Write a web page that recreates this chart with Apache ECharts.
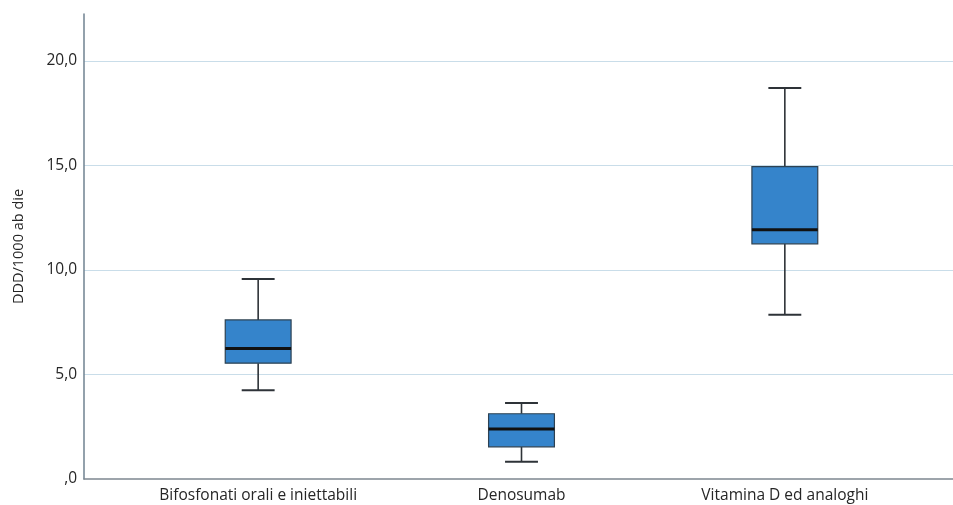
<!DOCTYPE html>
<html>
<head>
<meta charset="utf-8">
<script src="https://cdn.jsdelivr.net/npm/echarts@6/dist/echarts.min.js"></script>
<style>
	html, body { margin: 0; padding: 0; background: #ffffff; }
	#boxchart { width: 953px; height: 505px; }
</style>
</head>
<body>
<div id="boxchart"></div>
<script>
// categorie e valori (min, Q1, mediana, Q3, max)
var categories = ['Bifosfonati orali e iniettabili', 'Denosumab', 'Vitamina D ed analoghi'];
var whiskerLow = [4.25, 0.83, 7.85];
var quartile1 = [5.54, 1.54, 11.25];
var medians = [6.24, 2.39, 11.92];
var quartile3 = [7.61, 3.12, 14.94];
var whiskerHigh = [9.56, 3.63, 18.70];
var yTicks = [0, 5, 10, 15, 20];
var yTickLabels = [',0', '5,0', '10,0', '15,0', '20,0'];

var boxchart = {

	build: function() { // grafico a scatola

		var myChart = echarts.init(document.getElementById('boxchart'));

		var rows = categories.map(function(c, i) {
			return [i, whiskerLow[i], quartile1[i], medians[i], quartile3[i], whiskerHigh[i]];
		});

		var font = 'Open Sans';
		var textColor = '#262626';
		var yMax = 22.24;

		var option = {
			animation: false,
			backgroundColor: '#ffffff',
			grid: [
				{ left: 84, right: 0, top: 14, bottom: 26 },      // assi e griglia
				{ left: 126.5, right: 36.5, top: 14, bottom: 26 } // scatole
			],
			xAxis: [{
				gridIndex: 0,
				type: 'category',
				data: [''],
				axisLine: { lineStyle: { color: '#7d8790', width: 1.5 } },
				axisTick: { show: false },
				axisLabel: { show: false }
			}, {
				gridIndex: 1,
				type: 'category',
				data: categories,
				axisLine: { show: false },
				axisTick: { show: false },
				axisLabel: {
					color: textColor,
					fontFamily: font,
					fontSize: 15.5,
					margin: 9
				}
			}],
			yAxis: [{
				gridIndex: 0,
				type: 'value',
				min: 0,
				max: yMax,
				interval: 5,
				name: 'DDD/1000 ab die',
				nameLocation: 'middle',
				nameGap: 58,
				nameTextStyle: { color: textColor, fontFamily: font, fontSize: 14.5 },
				axisLine: { show: true, lineStyle: { color: '#6f8290', width: 1.5 } },
				axisTick: { show: false },
				axisLabel: {
					color: textColor,
					fontFamily: font,
					fontSize: 15.5,
					margin: 7,
					showMaxLabel: false,
					formatter: function(v) {
						var k = yTicks.indexOf(v);
						return k >= 0 ? yTickLabels[k] : '';
					}
				},
				splitLine: { showMinLine: false, showMaxLine: false, lineStyle: { color: '#c9dde9', width: 1.2 } }
			}, {
				gridIndex: 1,
				type: 'value',
				min: 0,
				max: yMax,
				interval: 5,
				show: false,
				splitLine: { show: false }
			}],
			series: [{
				type: 'custom',
				xAxisIndex: 1,
				yAxisIndex: 1,
				data: rows,
				encode: { x: 0, y: [1, 2, 3, 4, 5] },
				renderItem: function(params, api) {
					var x = api.value(0);
					var band = api.size([1, 0])[0];
					var boxW = band * 0.25;
					var capW = boxW * 0.5;
					var pLow = api.coord([x, api.value(1)]);
					var pQ1 = api.coord([x, api.value(2)]);
					var pMed = api.coord([x, api.value(3)]);
					var pQ3 = api.coord([x, api.value(4)]);
					var pHigh = api.coord([x, api.value(5)]);
					var cx = pMed[0];
					var lineStyle = { stroke: '#2e3338', lineWidth: 1.6 };
					return {
						type: 'group',
						children: [
							{ type: 'line', shape: { x1: cx, y1: pHigh[1], x2: cx, y2: pQ3[1] }, style: lineStyle },
							{ type: 'line', shape: { x1: cx, y1: pQ1[1], x2: cx, y2: pLow[1] }, style: lineStyle },
							{ type: 'line', shape: { x1: cx - capW / 2, y1: pHigh[1], x2: cx + capW / 2, y2: pHigh[1] }, style: { stroke: '#2e3338', lineWidth: 2 } },
							{ type: 'line', shape: { x1: cx - capW / 2, y1: pLow[1], x2: cx + capW / 2, y2: pLow[1] }, style: { stroke: '#2e3338', lineWidth: 2 } },
							{
								type: 'rect',
								shape: { x: cx - boxW / 2, y: pQ3[1], width: boxW, height: pQ1[1] - pQ3[1] },
								style: { fill: '#3584cb', stroke: '#2d4152', lineWidth: 1.2 }
							},
							{ type: 'line', shape: { x1: cx - boxW / 2, y1: pMed[1], x2: cx + boxW / 2, y2: pMed[1] }, style: { stroke: '#111111', lineWidth: 3 } }
						]
					};
				}
			}]
		};
		myChart.setOption(option);

	}

};

boxchart.build();
</script>
</body>
</html>
